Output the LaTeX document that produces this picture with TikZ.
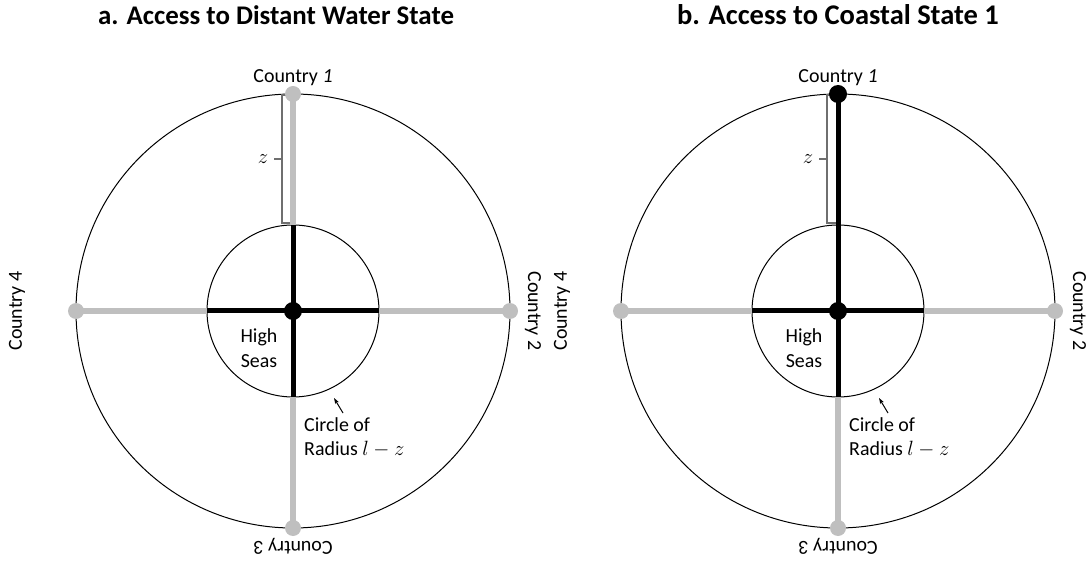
\documentclass[tikz,border=0pt]{standalone}
\usepackage{fontspec}
\setmainfont{Carlito}
\usetikzlibrary{arrows.meta}
\definecolor{seagray}{HTML}{BFBFBF}
\definecolor{bracegray}{HTML}{6F6F6F}
\tikzset{
  sea/.style={draw=seagray, line width=6.5bp},
  land/.style={draw=black, line width=5bp},
  rim/.style={draw=black, line width=1bp},
  brace/.style={draw=bracegray, line width=1.6bp},
  port/.style={circle, fill=seagray, inner sep=0pt, minimum size=16bp},
  hub/.style={circle, fill=black, inner sep=0pt, minimum size=18bp},
  lbl/.style={font=\fontsize{20}{25}\selectfont, inner sep=0pt},
  ttl/.style={font=\bfseries\fontsize{27}{30}\selectfont, inner sep=0pt}
}
\begin{document}
\begin{tikzpicture}[x=1bp, y=-1bp]
  \useasboundingbox (0,0) rectangle (1087,562);

  % titles
  \node[ttl, anchor=base] (titleA) at (276,25) {a. Access to Distant Water State};
  \node[ttl, anchor=base, font=\bfseries\fontsize{28.6}{30}\selectfont] (titleB) at (838,25) {b. Access to Coastal State 1};

  % panel a
  \begin{scope}[shift={(293,311)}]
   \coordinate (aC) at (0,0);
   \coordinate (aN) at (0,-217);
   \coordinate (aE) at (217,0);
   \coordinate (aS) at (0,217);
   \coordinate (aW) at (-217,0);
   \coordinate (aNi) at (0,-86);
   \coordinate (aEi) at (86,0);
   \coordinate (aSi) at (0,86);
   \coordinate (aWi) at (-86,0);
   \draw[rim] (aC) circle (217bp);
   \draw[rim] (aC) circle (86bp);
   \draw[brace] (-1,-216) -- (-11,-216) -- (-11,-88) -- (-1,-88);
   \draw[brace] (-11,-152) -- (-19,-152);
   \draw[sea] (aN) -- (aNi);
   \draw[sea] (aE) -- (aEi);
   \draw[sea] (aS) -- (aSi);
   \draw[sea] (aW) -- (aWi);
   \draw[land] (aNi) -- (aSi);
   \draw[land] (aWi) -- (aEi);
   \node[port] (aDotN) at (aN) {};
   \node[port] (aDotE) at (aE) {};
   \node[port] (aDotS) at (aS) {};
   \node[port] (aDotW) at (aW) {};
   \node[hub] (aHub) at (aC) {};
   \node[lbl] (aZ) at (-30,-152) {$z$};
   \node[lbl, anchor=base] (aLabN) at (0,-228) {Country \textit{1}};
   \node[lbl, rotate=-90] (aLabE) at (240,0) {Country 2};
   \node[lbl, rotate=180] (aLabS) at (0,235) {Country 3};
   \node[lbl, rotate=90] (aLabW) at (-276,0) {Country 4};
   \node[lbl, align=center] (aSeas) at (-34,37) {High\\Seas};
   \node[lbl, align=left, anchor=north west] (aRad) at (11,106) {Circle of\\Radius $l-z$};
   \coordinate (aTail) at (50,102);
   \coordinate (aTip) at (41,87);
   \draw[rim, -{Stealth[length=6bp, width=4bp]}] (aTail) -- (aTip);
  \end{scope}

  % panel b
  \begin{scope}[shift={(838,311)}]
   \coordinate (bC) at (0,0);
   \coordinate (bN) at (0,-217);
   \coordinate (bE) at (217,0);
   \coordinate (bS) at (0,217);
   \coordinate (bW) at (-217,0);
   \coordinate (bNi) at (0,-86);
   \coordinate (bEi) at (86,0);
   \coordinate (bSi) at (0,86);
   \coordinate (bWi) at (-86,0);
   \draw[rim] (bC) circle (217bp);
   \draw[rim] (bC) circle (86bp);
   \draw[brace] (-1,-216) -- (-11,-216) -- (-11,-88) -- (-1,-88);
   \draw[brace] (-11,-152) -- (-19,-152);
   \draw[sea] (bE) -- (bEi);
   \draw[sea] (bS) -- (bSi);
   \draw[sea] (bW) -- (bWi);
   \draw[land] (bN) -- (bSi);
   \draw[land] (bWi) -- (bEi);
   \node[hub] (bDotN) at (bN) {};
   \node[port] (bDotE) at (bE) {};
   \node[port] (bDotS) at (bS) {};
   \node[port] (bDotW) at (bW) {};
   \node[hub] (bHub) at (bC) {};
   \node[lbl] (bZ) at (-30,-152) {$z$};
   \node[lbl, anchor=base] (bLabN) at (0,-228) {Country \textit{1}};
   \node[lbl, rotate=-90] (bLabE) at (240,0) {Country 2};
   \node[lbl, rotate=180] (bLabS) at (0,235) {Country 3};
   \node[lbl, rotate=90] (bLabW) at (-276,0) {Country 4};
   \node[lbl, align=center] (bSeas) at (-34,37) {High\\Seas};
   \node[lbl, align=left, anchor=north west] (bRad) at (11,106) {Circle of\\Radius $l-z$};
   \coordinate (bTail) at (50,102);
   \coordinate (bTip) at (41,87);
   \draw[rim, -{Stealth[length=6bp, width=4bp]}] (bTail) -- (bTip);
  \end{scope}
\end{tikzpicture}
\end{document}
